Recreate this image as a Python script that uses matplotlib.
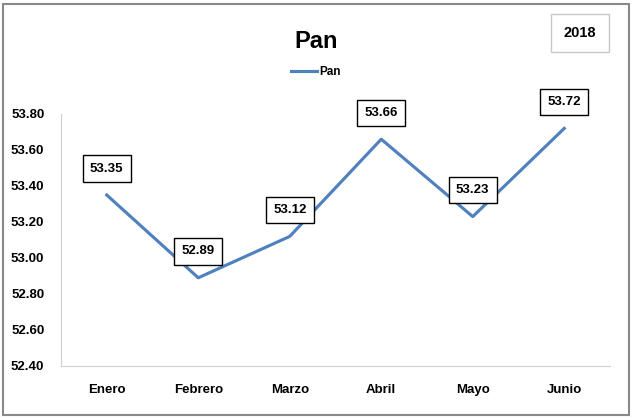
import matplotlib.pyplot as plt
from matplotlib.patches import Rectangle

months = ["Enero", "Febrero", "Marzo", "Abril", "Mayo", "Junio"]
pan = [53.35, 52.89, 53.12, 53.66, 53.23, 53.72]
yticks = [52.40, 52.60, 52.80, 53.00, 53.20, 53.40, 53.60, 53.80]

plt.rcParams["font.family"] = ["Liberation Sans", "DejaVu Sans"]
plt.rcParams["font.weight"] = "bold"

fig = plt.figure(figsize=(6.32, 4.18), dpi=100)
ax = fig.add_axes([61 / 632, 1 - 366 / 418, 549 / 632, 252 / 418])

x = range(len(months))
ax.plot(x, pan, color="#4F81BD", linewidth=2.25, label="Pan")

for xi, v in zip(x, pan):
    ax.annotate(f"{v:.2f}", (xi, v), xytext=(0, 19), textcoords="offset points",
                ha="center", va="center", fontsize=9.5, fontweight="bold",
                bbox=dict(boxstyle="square,pad=0.55", fc="white", ec="black", lw=1))

ax.set_xlim(-0.5, 5.5)
ax.set_ylim(52.40, 53.80)
ax.set_yticks(yticks)
ax.set_yticklabels([f"{t:.2f}" for t in yticks])
ax.set_xticks(list(x))
ax.set_xticklabels(months)
ax.tick_params(length=0, labelsize=9.5)
ax.tick_params(axis="x", pad=13)
ax.tick_params(axis="y", pad=12)
for s in ["top", "right"]:
    ax.spines[s].set_visible(False)
for s in ["left", "bottom"]:
    ax.spines[s].set_color("#D0D0D0")

fig.text(0.5, 1 - 42 / 418, "Pan", ha="center", va="center", fontsize=17, fontweight="bold")
fig.legend(loc="center", bbox_to_anchor=(0.5, 1 - 72 / 418), frameon=False,
           fontsize=8.5, handlelength=2.2, handletextpad=0.2)
fig.text(580 / 632, 1 - 33 / 418, "2018", ha="center", va="center", fontsize=10.5, fontweight="bold",
         bbox=dict(boxstyle="square,pad=0.85", fc="white", ec="#C8C8C8", lw=1))

fig.add_artist(Rectangle((3 / 632, 3 / 418), 626 / 632, 411 / 418, transform=fig.transFigure,
                         fill=False, ec="#888888", lw=1.5))

fig.savefig("out.png", dpi=100)
